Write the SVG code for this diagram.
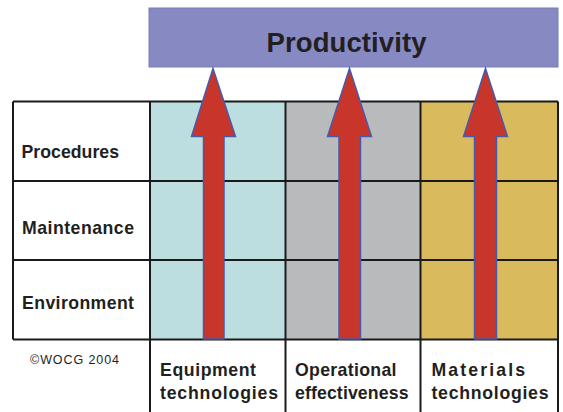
<svg xmlns="http://www.w3.org/2000/svg" width="563" height="412" viewBox="0 0 563 412">
<style>
.lbl{font-family:"Liberation Sans",Arial,sans-serif;font-weight:bold;font-size:17.7px;fill:#231f20}
.grid{stroke:#1a1a1a;stroke-width:2;fill:none}
.arrow{fill:#c8352b;stroke:#4a5aa8;stroke-width:1.5}
</style>
<rect x="0" y="0" width="563" height="412" fill="#ffffff"/>
<g id="productivity">
<rect x="149" y="8" width="409" height="59" fill="#8789c2" stroke="#7a7cb8" stroke-width="1"/>
<text x="346.5" y="52" text-anchor="middle" font-family="'Liberation Sans',Arial,sans-serif" font-weight="bold" font-size="27.5" fill="#231f20" textLength="160" lengthAdjust="spacing">Productivity</text>
</g>
<g id="columns">
<rect x="150" y="101.5" width="135.5" height="238" fill="#bcdee0"/>
<rect x="285.5" y="101.5" width="135" height="238" fill="#b9babc"/>
<rect x="420.5" y="101.5" width="137.5" height="238" fill="#d9bb5d"/>
</g>
<g id="grid">
<path class="grid" d="M13 101.5H558M13 181H558M13 260H558M13 339.5H558M13 101.5V339.5M150 101.5V412M285.5 101.5V412M420.5 101.5V412M558 101.5V412"/>
</g>
<g id="row-procedures"><text class="lbl" x="21.5" y="158" textLength="97.5" lengthAdjust="spacing">Procedures</text></g>
<g id="row-maintenance"><text class="lbl" x="22" y="234" textLength="112" lengthAdjust="spacing">Maintenance</text></g>
<g id="row-environment"><text class="lbl" x="22" y="309" textLength="112" lengthAdjust="spacing">Environment</text></g>
<g id="copyright"><text x="30" y="363.5" font-family="'Liberation Sans',Arial,sans-serif" font-size="12.5" fill="#231f20" textLength="89" lengthAdjust="spacing">©WOCG 2004</text></g>
<g id="col-equipment"><text class="lbl" x="160" y="376" textLength="96" lengthAdjust="spacing">Equipment</text><text class="lbl" x="160" y="398.5" textLength="118" lengthAdjust="spacing">technologies</text></g>
<g id="col-operational"><text class="lbl" x="295" y="376" textLength="101.5" lengthAdjust="spacing">Operational</text><text class="lbl" x="295" y="398.5" textLength="113.5" lengthAdjust="spacing">effectiveness</text></g>
<g id="col-materials"><text class="lbl" x="431.5" y="376" textLength="93.5" lengthAdjust="spacing">Materials</text><text class="lbl" x="431.5" y="398.5" textLength="117" lengthAdjust="spacing">technologies</text></g>
<g id="connectors">
<path class="arrow" d="M203.5 339V136.5H191.5L213 68.5L235.5 136.5H224V339Z"/>
<path class="arrow" d="M339 339V136.5H327.5L349.5 68.5L371.5 136.5H360.5V339Z"/>
<path class="arrow" d="M474.5 339V136.5H463.5L485.5 68.5L507.5 136.5H496.5V339Z"/>
</g>
</svg>
